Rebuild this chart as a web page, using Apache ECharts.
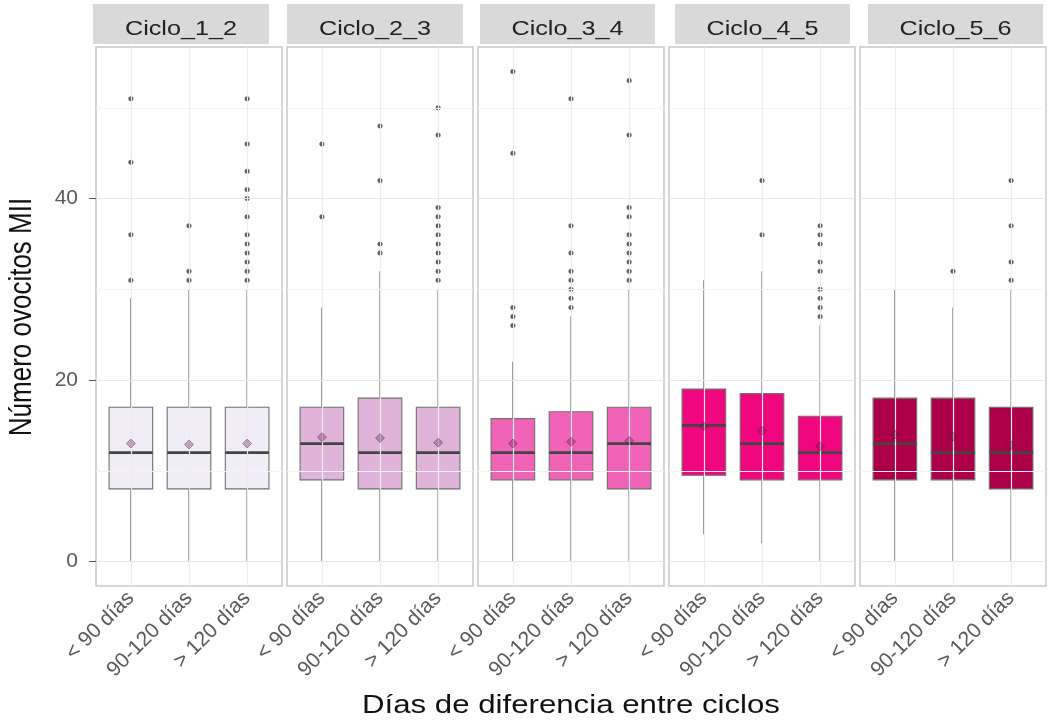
<!DOCTYPE html>
<html><head><meta charset="utf-8">
<script src="https://cdn.jsdelivr.net/npm/echarts@6/dist/echarts.min.js"></script>
<style>html,body{margin:0;padding:0;background:#fff}#c{width:1048px;height:723px}</style>
</head><body><div id="c"></div>
<script>
// ---------- data ----------
const categories = ['< 90 días', '90-120 días', '> 120 días'];
const cycles = ['Ciclo_1_2', 'Ciclo_2_3', 'Ciclo_3_4', 'Ciclo_4_5', 'Ciclo_5_6'];
const yTicks = [0, 20, 40];
const yMinor = [10, 30, 50];
// box stats per category: [lower whisker, Q1, median, Q3, upper whisker]
const boxC12 = [[0, 8, 12, 17, 29], [0, 8, 12, 17, 30], [0, 8, 12, 17, 30]];
const boxC23 = [[0, 9, 13, 17, 28], [0, 8, 12, 18, 32], [0, 8, 12, 17, 30]];
const boxC34 = [[0, 9, 12, 15.75, 22], [0, 9, 12, 16.5, 27], [0, 8, 13, 17, 30]];
const boxC45 = [[3, 9.5, 15, 19, 31], [2, 9, 13, 18.5, 32], [0, 9, 12, 16, 26]];
const boxC56 = [[0, 9, 13, 18, 30], [0, 9, 12, 18, 28], [0, 8, 12, 17, 30]];
// means per category
const meanC12 = [13.0, 12.9, 13.0];
const meanC23 = [13.7, 13.6, 13.1];
const meanC34 = [13.0, 13.2, 13.3];
const meanC45 = [14.9, 14.4, 12.7];
const meanC56 = [14.0, 13.75, 12.8];
// outliers per category
const outC12 = [[51, 44, 36, 31], [37, 32, 31], [51, 46, 43, 41, 40, 38, 36, 35, 34, 33, 32, 31]];
const outC23 = [[46, 38], [48, 42, 35, 34], [50, 47, 39, 38, 37, 36, 35, 34, 33, 32, 31]];
const outC34 = [[54, 45, 28, 27, 26], [51, 37, 34, 32, 31, 30, 29, 28], [53, 47, 39, 38, 36, 35, 34, 33, 32, 31]];
const outC45 = [[], [42, 36], [37, 36, 35, 33, 32, 30, 29, 28, 27]];
const outC56 = [[], [32], [42, 37, 33, 31]];

// ---------- style / layout ----------
const fills = ['#f1edf6', '#dfb3da', '#f063b6', '#f0067f', '#ae0049'];
const FONT = '"Liberation Sans", Arial, sans-serif';
const L0 = 96, STEP = 191, PW = 186, PT = 47, PH = 539;
const stripL = [93, 287, 480, 675, 868], stripR = [269, 463, 655, 850, 1043];

const boxes = [boxC12, boxC23, boxC34, boxC45, boxC56];
const means = [meanC12, meanC23, meanC34, meanC45, meanC56];
const outs = [outC12, outC23, outC34, outC45, outC56];

const grid = [], xAxis = [], yAxis = [], series = [], graphic = [];
for (let p = 0; p < 5; p++) {
  grid.push({ left: L0 + p * STEP, top: PT, width: PW, height: PH, show: true,
    backgroundColor: '#fff', borderColor: '#c8c8c8', borderWidth: 1.5 });
  xAxis.push({ type: 'value', gridIndex: p, min: 0.4, max: 3.6,
    axisLine: { show: false }, splitLine: { show: false },
    axisTick: { show: true, customValues: [1, 2, 3], length: 4, lineStyle: { color: '#666' } },
    axisLabel: { show: true, customValues: [1, 2, 3], rotate: 45, margin: 9,
      formatter: v => categories[Math.round(v) - 1] || '',
      fontSize: 21, fontFamily: FONT, color: '#595959' } });
  yAxis.push({ type: 'value', gridIndex: p, min: -2.7, max: 56.7,
    axisLine: { show: false }, splitLine: { show: false },
    axisTick: { show: p === 0, customValues: yTicks, length: 7, lineStyle: { color: '#555' } },
    axisLabel: { show: p === 0, customValues: yTicks, margin: 18, fontSize: 21,
      fontFamily: FONT, color: '#595959', padding: [0, 0, 8, 0] } });
  const ml = [];
  yMinor.forEach(v => ml.push({ yAxis: v, lineStyle: { color: '#f3f3f3', width: 1, type: 'solid' } }));
  yTicks.forEach(v => ml.push({ yAxis: v, lineStyle: { color: '#e8e8e8', width: 1.2, type: 'solid' } }));
  [1, 2, 3].forEach(v => ml.push({ xAxis: v, lineStyle: { color: '#ececec', width: 1.2, type: 'solid' } }));
  series.push({ type: 'scatter', xAxisIndex: p, yAxisIndex: p, data: [], z: 1, silent: true,
    markLine: { silent: true, symbol: 'none', label: { show: false }, animation: false, data: ml } });
  const bdata = boxes[p].map((b, i) => [i + 1].concat(b));
  const fill = fills[p];
  series.push({ type: 'custom', xAxisIndex: p, yAxisIndex: p, z: 3, clip: false,
    data: bdata, encode: { x: 0, y: [1, 2, 3, 4, 5] },
    renderItem: function (params, api) {
      const x = api.value(0);
      const lo = api.coord([x, api.value(1)]);
      const q1 = api.coord([x, api.value(2)]);
      const md = api.coord([x, api.value(3)]);
      const q3 = api.coord([x, api.value(4)]);
      const hi = api.coord([x, api.value(5)]);
      const hw = api.size([0.75, 0])[0] / 2;
      const cx = lo[0];
      return { type: 'group', children: [
        { type: 'line', shape: { x1: cx, y1: hi[1], x2: cx, y2: q3[1] }, style: { stroke: '#7e7e7e', lineWidth: 1.4 } },
        { type: 'line', shape: { x1: cx, y1: q1[1], x2: cx, y2: lo[1] }, style: { stroke: '#7e7e7e', lineWidth: 1.4 } },
        { type: 'rect', shape: { x: cx - hw, y: q3[1], width: 2 * hw, height: q1[1] - q3[1] },
          style: { fill: fill, stroke: '#707070', lineWidth: 1.1 } },
        { type: 'line', shape: { x1: cx - hw, y1: md[1], x2: cx + hw, y2: md[1] }, style: { stroke: '#444', lineWidth: 2.8 } }
      ] };
    } });
  const odata = [];
  outs[p].forEach((arr, i) => arr.forEach(v => odata.push([i + 1, v])));
  series.push({ type: 'scatter', xAxisIndex: p, yAxisIndex: p, z: 4, clip: false,
    data: odata, symbol: 'circle', symbolSize: 5, itemStyle: { color: '#333' } });
  series.push({ type: 'scatter', xAxisIndex: p, yAxisIndex: p, z: 5, clip: false,
    data: means[p].map((m, i) => [i + 1, m]), symbol: 'diamond', symbolSize: 9,
    itemStyle: { color: 'rgba(90,30,80,0.42)', borderColor: 'rgba(70,20,60,0.5)', borderWidth: 1 } });
  // strip
  graphic.push({ type: 'rect', shape: { x: stripL[p], y: 4, width: stripR[p] - stripL[p], height: 40 },
    style: { fill: '#d9d9d9' }, silent: true });
  graphic.push({ type: 'text', x: (stripL[p] + stripR[p]) / 2, y: 29, scaleX: 1.2,
    style: { text: cycles[p], font: '21px ' + FONT, fill: '#222', align: 'center', verticalAlign: 'middle' } });
}
graphic.push({ type: 'text', x: 571, y: 706, scaleX: 1.2,
  style: { text: 'Días de diferencia entre ciclos', font: '26px ' + FONT, fill: '#111', align: 'center', verticalAlign: 'middle' } });
graphic.push({ type: 'text', x: 22, y: 317, rotation: Math.PI / 2, scaleY: 1.2,
  style: { text: 'Número ovocitos MII', font: '26px ' + FONT, fill: '#111', align: 'center', verticalAlign: 'middle' } });

const chart = echarts.init(document.getElementById('c'), null, { renderer: 'canvas' });
chart.setOption({ animation: false, backgroundColor: '#fff', grid, xAxis, yAxis, series, graphic });
</script></body></html>
